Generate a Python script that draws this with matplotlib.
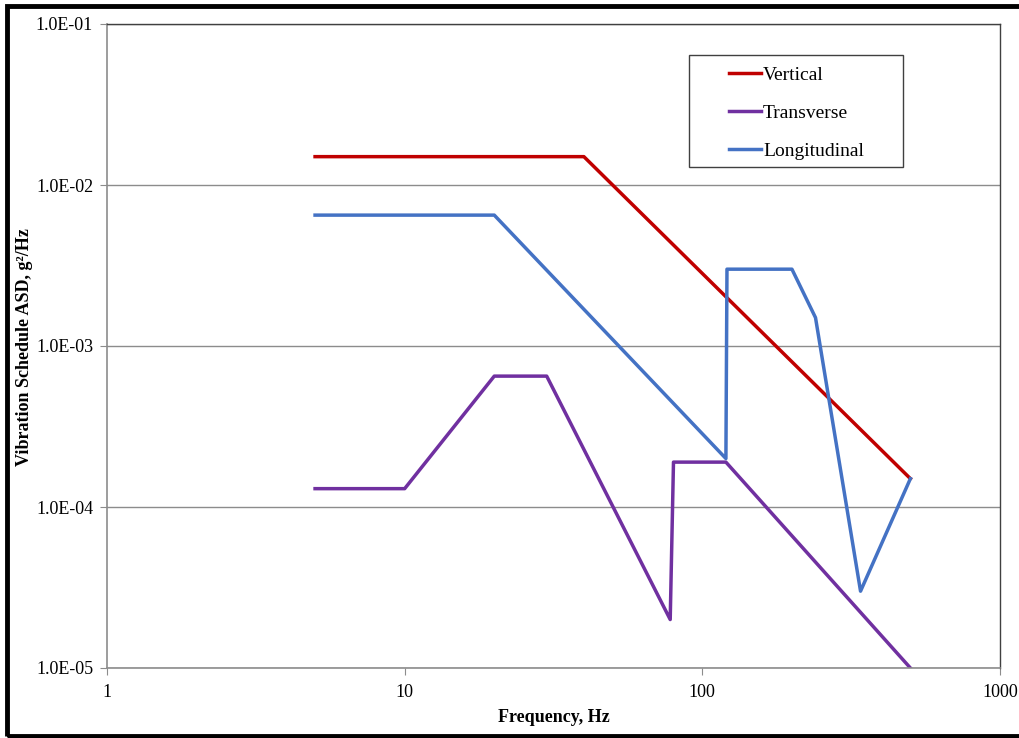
import matplotlib
matplotlib.use("Agg")
import matplotlib.pyplot as plt
from matplotlib.ticker import FixedLocator, FixedFormatter, NullLocator
from matplotlib.patches import Rectangle

plt.rcParams['font.family'] = ['Liberation Serif', 'DejaVu Serif']

vert_f = [5, 40, 500]
vert_asd = [0.015, 0.015, 1.5e-4]

trans_f = [5, 10, 20, 30, 78, 80, 120, 500]
trans_asd = [1.3e-4, 1.3e-4, 6.5e-4, 6.5e-4, 2e-5, 1.9e-4, 1.9e-4, 1e-5]

long_f = [5, 20, 120, 121, 200, 240, 340, 500]
long_asd = [6.5e-3, 6.5e-3, 2e-4, 3e-3, 3e-3, 1.5e-3, 3e-5, 1.5e-4]

x_ticks = [1, 10, 100, 1000]
x_labels = ["1", "10", "100", "1000"]
y_ticks = [1e-5, 1e-4, 1e-3, 1e-2, 1e-1]
y_labels = ["1.0E-05", "1.0E-04", "1.0E-03", "1.0E-02", "1.0E-01"]

W, H = 1019, 738
fig = plt.figure(figsize=(W/100, H/100), dpi=100)
L, R, T, B = 107, 1000, 24, 668
ax = fig.add_axes([L/W, 1 - B/H, (R-L)/W, (B-T)/H])

ax.plot(vert_f, vert_asd, color='#C00000', lw=2.5, label='Vertical', solid_joinstyle='round')
ax.plot(trans_f, trans_asd, color='#7030A0', lw=2.5, label='Transverse', solid_joinstyle='round')
ax.plot(long_f, long_asd, color='#4472C4', lw=2.5, label='Longitudinal', solid_joinstyle='round')

ax.set_xscale('log')
ax.set_yscale('log')
ax.set_xlim(1, 1000)
ax.set_ylim(1e-5, 1e-1)
ax.xaxis.set_major_locator(FixedLocator(x_ticks))
ax.xaxis.set_major_formatter(FixedFormatter(x_labels))
ax.xaxis.set_minor_locator(NullLocator())
ax.yaxis.set_major_locator(FixedLocator(y_ticks))
ax.yaxis.set_major_formatter(FixedFormatter(y_labels))
ax.yaxis.set_minor_locator(NullLocator())

ax.grid(axis='y', which='major', color='#8c8c8c', lw=1.0)
ax.set_axisbelow(True)
for s in ['left', 'bottom']:
    ax.spines[s].set_color('#8c8c8c')
    ax.spines[s].set_linewidth(1.2)
for s in ['top', 'right']:
    ax.spines[s].set_color('#404040')
    ax.spines[s].set_linewidth(1.0)
ax.tick_params(axis='y', which='major', direction='out', length=5, color='#8c8c8c',
               labelsize=13, pad=5)
ax.tick_params(axis='x', which='major', direction='out', length=5, color='#8c8c8c',
               labelsize=13, pad=6.5)

ax.set_xlabel('Frequency, Hz', fontsize=13, fontweight='bold', labelpad=5.5)
fig.text(25/W, 1 - 347/H, 'Vibration Schedule ASD, g\u00b2/Hz', fontsize=13,
         fontweight='bold', rotation=90, ha='center', va='center')

def fx(px):
    return (px - L) / (R - L)

def fy(py):
    return 1 - (py - T) / (B - T)

leg = ax.legend(loc='upper left', bbox_to_anchor=(fx(729), fy(66)),
                fontsize=14, frameon=False,
                handlelength=1.65, handletextpad=0.1, labelspacing=1.06,
                borderpad=0, borderaxespad=0)
ax.add_patch(Rectangle((fx(689), fy(167)), fx(903) - fx(689), fy(55) - fy(167),
                       transform=ax.transAxes, fill=False, edgecolor='#404040',
                       lw=1.0, zorder=4))

fig.patches.append(Rectangle((7/W, 2/H), 1.2, 1 - 8/H, transform=fig.transFigure,
                             fill=False, edgecolor='black', lw=3.5, zorder=10))

fig.savefig('out.png', dpi=100)
